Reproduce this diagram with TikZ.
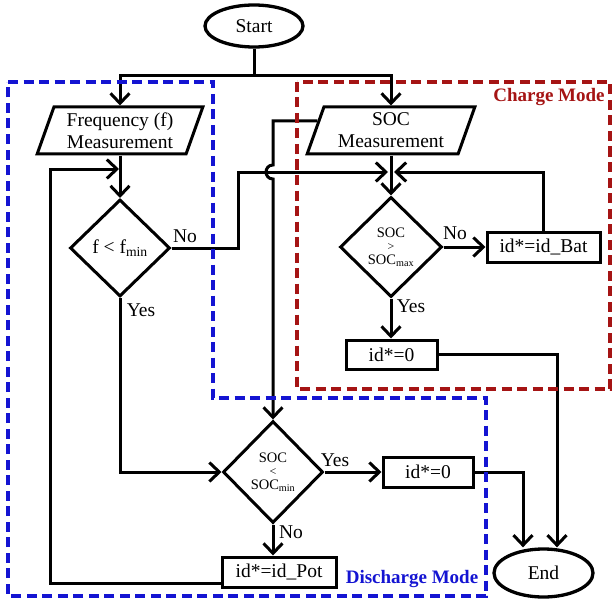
\documentclass[tikz,border=0pt]{standalone}
\usepackage{fontspec}
\setmainfont{Liberation Serif}
\usetikzlibrary{shapes.geometric,arrows.meta}
\definecolor{dblue}{RGB}{20,20,210}
\definecolor{dred}{RGB}{165,20,20}
\begin{document}
\begin{tikzpicture}[x=1pt,y=-1pt,
  every node/.style={font=\fontsize{19.5}{22}\selectfont},
  ln/.style={line width=3pt},
  arr/.style={ln,-{Straight Barb[length=10pt,width=19pt]}},
  term/.style={ellipse,draw,line width=3.3pt,minimum width=98pt,minimum height=42pt,inner sep=0pt},
  io/.style={trapezium,trapezium left angle=70,trapezium right angle=110,trapezium stretches=true,draw,ln,align=center,minimum width=166pt,minimum height=47pt,inner sep=1pt},
  dec/.style={diamond,draw,ln,align=center,inner sep=0pt},
  small/.style={font=\fontsize{14.5}{13.5}\selectfont},
  proc/.style={rectangle,draw,ln,inner sep=0pt},
  lbl/.style={inner sep=0pt},
  zone/.style={line width=3.2pt,dash pattern=on 10pt off 5.5pt},
]
\useasboundingbox (0,0) rectangle (613,599);

% nodes
\node[term] (start) at (254,26) {Start};
\node[io] (freq) at (120,130.5) {Frequency (f)\\Measurement};
\node[io,minimum width=168pt] (socm) at (391,130.5) {SOC\\Measurement};
\node[dec,minimum width=100pt,minimum height=97pt] (fd) at (120,248) {f < f\textsubscript{min}};
\node[dec,small,minimum width=102pt,minimum height=100pt] (cd) at (391,247) {SOC\\{\fontsize{12}{12}\selectfont >}\\SOC\textsubscript{max}};
\node[proc,minimum width=113pt,minimum height=30pt] (bat) at (543.5,247) {id*=id\_Bat};
\node[proc,minimum width=91pt,minimum height=29pt] (c0) at (391.5,354.5) {id*=0};
\node[dec,small,minimum width=100pt,minimum height=102pt] (dd) at (273,472) {SOC\\{\fontsize{12}{12}\selectfont <}\\SOC\textsubscript{min}};
\node[proc,minimum width=90pt,minimum height=30pt] (d0) at (428,472) {id*=0};
\node[proc,minimum width=114pt,minimum height=30pt] (pot) at (279,572) {id*=id\_Pot};
\node[term,minimum width=99pt,minimum height=48pt] (end) at (543.5,573) {End};

% labels
\node[lbl] (fno) at (185,236) {No};
\node[lbl] (fyes) at (141,310) {Yes};
\node[lbl] (cno) at (455,233) {No};
\node[lbl] (cyes) at (411,306) {Yes};
\node[lbl] (dyes) at (335,460) {Yes};
\node[lbl] (dno) at (291,532) {No};

% connectors
\coordinate (split) at (254,76);
\draw[ln] (start.south) -- (split);
\draw[arr] (split) -| (freq.north -| freq.center);
\draw[arr] (split) -| (socm.north -| socm.center);
\draw[arr] (freq.south -| freq.center) -- (fd.north);
\coordinate (fbk) at (50,169);
\draw[arr,shorten >=1pt] ([yshift=-11pt]pot.west) -| (fbk) -- (fbk -| fd.north);
\draw[arr] (fd.south) |- (dd.west);
\coordinate (merge) at (391,172);
\coordinate (fnoup) at (238,172);
\draw[arr,shorten >=3pt] (fd.east) -| (fnoup) -- (merge);
\draw[arr] (socm.south -| socm.center) -- (cd.north);
\draw[arr] (cd.east) -- (bat.west);
\draw[arr,shorten >=3pt] (bat.north) |- (merge);
\draw[arr] (cd.south) -- (cd.south |- c0.north);
\draw[arr] (c0.east) -| ([xshift=13.5pt]end.north);
\draw[arr] (dd.east) -- (d0.west);
\draw[arr] (d0.east) -| ([xshift=-20.5pt]end.north);
\draw[arr] (dd.south) -- (dd.south |- pot.north);
\coordinate (jtop) at (273,121);
\draw[arr] ([xshift=3.5pt,yshift=9.5pt]socm.west) -- (jtop) -- ++(0,44)
  to[out=180,in=180,looseness=1.7] ++(0,14) -- (dd.north);

% zones
\draw[zone,dred] (297,82) rectangle (610,389);
\draw[zone,dblue] (8,82) -- (213,82) -- (213,398) -- (486,398) -- (486,596) -- (8,596) -- cycle;
\node[lbl,font=\bfseries\fontsize{19}{22}\selectfont,text=dred] (cm) at (549,97) {Charge Mode};
\node[lbl,font=\bfseries\fontsize{19}{22}\selectfont,text=dblue] (dm) at (412,579) {Discharge Mode};
\end{tikzpicture}
\end{document}
